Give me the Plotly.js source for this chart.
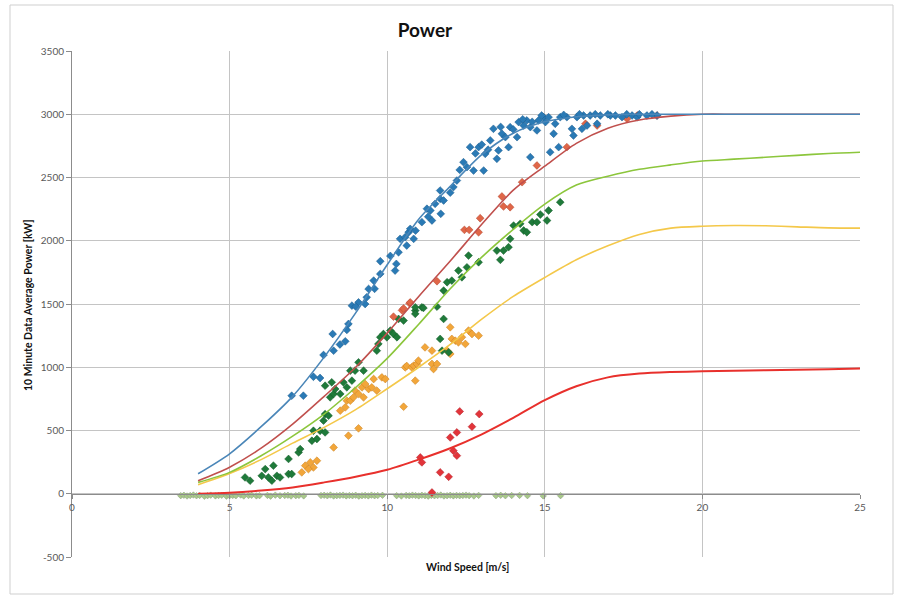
<!DOCTYPE html>
<html><head><meta charset="utf-8">
<script src="https://cdn.plot.ly/plotly-3.0.1.min.js"></script>
<style>html,body{margin:0;padding:0;background:#fff}#chart{width:903px;height:598px}</style>
</head><body><div id="chart"></div>
<script>
// Model curves (wind speed 4..25 m/s)
const curveX = [4,5,6,7,8,9,10,11,12,13,14,15,16,17,18,19,20,21,22,23,24,25];
const blueCurve   = [158,316,530,770,1080,1430,1810,2170,2430,2680,2850,2940,2980,2995,3000,3000,3000,3000,3000,3000,3000,3000];
const brownCurve  = [103,210,360,550,770,1000,1270,1560,1840,2130,2400,2590,2770,2890,2955,2985,3000,3000,3000,3000,3000,3000];
const greenCurve  = [90,169,300,455,630,840,1070,1340,1620,1870,2090,2290,2440,2510,2565,2600,2630,2645,2660,2675,2690,2700];
const yellowCurve = [71,160,270,400,525,665,830,1000,1180,1380,1560,1710,1850,1960,2050,2100,2115,2120,2118,2110,2102,2100];
const redCurve    = [0,8,25,50,90,135,190,270,360,470,600,740,850,920,950,962,968,972,976,980,985,990];

// Measured 10-minute data
const blueX = [6.97,7.34,7.66,7.87,7.98,8.3,8.27,8.67,8.72,8.77,8.88,9.09,9.3,9.35,9.41,9.57,9.78,9.78,10.25,10.29,10.36,10.41,10.57,10.68,10.73,10.84,10.62,11.1,11.26,11.42,11.52,11.68,11.7,11.68,11.79,11.37,12.1,12.21,12.42,12.53,12.63,12.74,12.9,13.06,13.11,13.27,13.37,13.48,13.53,13.64,13.75,13.85,13.9,14.12,14.17,14.33,14.43,14.54,14.54,14.75,14.8,14.96,15.02,15.12,15.17,15.28,15.33,15.44,15.49,15.7,15.86,15.91,16.02,16.18,16.23,16.44,16.34,16.76,16.66,17.08,17.24,17.45,17.77,17.93,18.24,18.56,12.0,12.3,12.8,13.0,13.2,13.6,14.0,14.3,14.6,14.9,15.6,16.1,16.6,17.0,17.6,18.0,18.4,9.0,9.6,10.1,10.9,11.3,8.5];
const blueY = [775,775,925,915,1097,1131,1263,1205,1295,1342,1487,1513,1500,1553,1619,1685,1738,1838,1764,1817,1909,2015,2028,2067,2094,2015,1962,2147,2253,2160,2292,2331,2213,2397,2318,2239,2424,2476,2621,2582,2740,2555,2740,2555,2687,2793,2885,2648,2714,2846,2819,2740,2898,2819,2938,2911,2951,2898,2661,2872,2951,2977,2938,2977,2700,2846,2925,2740,2977,2977,2885,2832,2977,2885,2990,2990,2911,2990,2925,2990,2990,2977,2990,2977,2990,2990,2380,2560,2690,2760,2720,2900,2880,2960,2940,2990,2995,3000,3000,3000,3000,3000,3000,1480,1620,1880,2080,2190,1180];

const salmonX = [10.2,10.47,10.52,10.71,10.73,11.58,12.45,12.6,12.9,12.95,13.64,13.69,13.9,14.28,14.75,15.7,16.29,16.66,17.61,17.93,18.56];
const salmonY = [1400,1450,1465,1505,1513,1680,2086,2086,2067,2178,2350,2271,2265,2463,2595,2740,2925,2911,2964,2990,2990];

const greenX = [5.49,5.65,6.02,6.13,6.23,6.34,6.39,6.5,6.6,6.87,6.97,6.87,7.19,7.24,7.61,7.66,7.77,7.87,8.03,7.98,8.03,8.14,8.19,8.3,8.35,8.51,8.61,8.72,8.83,8.88,8.98,9.09,9.25,9.67,9.72,9.78,9.88,9.99,10.1,10.2,10.31,10.36,10.52,10.89,11.1,10.89,8.03,8.24,11.15,10.89,11.58,11.79,11.68,11.74,11.79,11.9,12.05,12.26,12.37,12.53,12.58,12.9,13.48,13.59,13.69,13.85,13.9,14.01,14.22,14.33,14.43,14.6,14.75,15.07,15.49,15.12,14.86,11.95];
const greenY = [129,103,142,195,129,103,222,142,129,156,156,275,327,353,419,498,433,498,485,578,630,617,762,789,828,789,881,841,973,894,973,1039,973,1131,1184,1237,1263,1237,1290,1263,1237,1382,1369,1448,1474,1474,854,881,1469,1422,1479,1382,1224,1131,1606,1672,1685,1764,1711,1790,1883,1830,1922,1849,1922,1949,2015,2120,2134,2081,2067,2147,2147,2160,2305,2239,2207,1118];

const orangeX = [7.29,7.4,7.56,7.66,7.77,7.5,8.3,8.77,9.09,8.51,8.67,8.72,8.83,8.93,8.98,9.09,9.2,9.25,9.3,9.41,9.51,9.57,9.83,9.94,9.67,10.52,10.57,10.62,10.78,10.84,10.89,10.94,10.99,11.2,11.42,11.42,11.47,11.58,11.9,12.0,12.0,12.05,12.16,12.26,12.37,12.48,12.58,12.69,12.9];
const orangeY = [169,222,248,208,261,195,366,459,517,657,683,736,736,762,815,789,841,762,868,828,841,907,920,907,815,688,999,1010,999,1013,894,1026,1052,1157,1131,1026,986,1026,1131,1105,1316,1224,1210,1197,1237,1184,1290,1263,1250];

const redX = [11.05,11.1,11.42,11.68,11.95,12.0,12.1,12.21,12.21,12.3,12.69,12.92];
const redY = [287,248,10,169,134,445,340,301,485,651,530,630];

const zeroX = [3.45,3.55,3.65,3.75,3.85,3.95,4.05,4.2,4.3,4.4,4.55,4.65,4.75,4.9,5.0,5.1,5.2,5.35,5.45,5.6,5.7,5.85,5.95,6.2,6.3,6.45,6.6,6.75,6.85,6.95,7.1,7.2,7.35,7.9,8.0,8.1,8.2,8.3,8.4,8.5,8.6,8.7,8.8,8.9,9.0,9.1,9.2,9.3,9.4,9.5,9.6,9.7,9.85,10.3,10.45,10.6,10.7,10.8,10.9,11.0,11.1,11.2,11.3,11.4,11.5,11.6,11.7,11.8,11.9,12.0,12.1,12.2,12.3,12.4,12.5,12.6,12.75,12.9,13.45,13.6,13.75,13.95,14.2,14.45,14.95,15.5];
const zeroY = [-15,-12,-18,-14,-10,-16,-13,-20,-15,-11,-17,-14,-12,-19,-15,-13,-16,-10,-18,-14,-12,-17,-15,-13,-19,-11,-16,-14,-12,-18,-15,-13,-17,-14,-12,-16,-10,-18,-15,-13,-11,-17,-14,-16,-12,-19,-15,-13,-17,-11,-16,-14,-12,-15,-18,-13,-16,-11,-14,-17,-12,-15,-19,-13,-16,-14,-10,-18,-15,-12,-17,-13,-16,-14,-11,-15,-18,-13,-15,-12,-16,-14,-13,-15,-17,-15];

const xTicks = [0,5,10,15,20,25];
const yTickVals = [-500,0,500,1000,1500,2000,2500,3000,3500];
const yTickText = ['-500','0','500','1000','1500','2000','2500','3000','3500'];

const FONT = 'Lato, "Open Sans", sans-serif';

function pts(x, y, color, lineColor, size) {
  return {x:x, y:y, type:'scatter', mode:'markers', hoverinfo:'skip',
    marker:{symbol:'diamond', size:size, color:color, line:{color:lineColor, width:0.5}}};
}
function curve(y, color, w) {
  return {x:curveX, y:y, type:'scatter', mode:'lines', hoverinfo:'skip',
    line:{color:color, width:w, shape:'spline', smoothing:0.8}};
}

const data = [
  pts(zeroX, zeroY, '#a9c98a', '#8a9a80', 5),
  pts(redX, redY, '#e2343a', '#b02028', 6),
  pts(orangeX, orangeY, '#f2a63a', '#c87e1c', 6),
  pts(greenX, greenY, '#1f7a3a', '#135a28', 6),
  pts(salmonX, salmonY, '#e06648', '#b04830', 6),
  pts(blueX, blueY, '#2a7ab5', '#1a5a8c', 6),
  curve(redCurve, '#e8302c', 2),
  curve(yellowCurve, '#f4c84a', 1.6),
  curve(greenCurve, '#8cc63c', 1.6),
  curve(brownCurve, '#c0504d', 1.6),
  curve(blueCurve, '#4a86b8', 1.6)
];

const W = 903, H = 598, L = 72, R = 43, T = 51, B = 41;
const pw = W - L - R, ph = H - T - B;

const layout = {
  width: W, height: H,
  margin: {l:L, r:R, t:T, b:B, pad:0},
  paper_bgcolor:'#ffffff', plot_bgcolor:'#ffffff',
  showlegend:false,
  font:{family:FONT, color:'#595959'},
  title:{text:'<b>Power</b>', font:{family:FONT, size:19, color:'#111'},
    xref:'paper', x:(425-L)/pw, xanchor:'center', yref:'container', y:1-30/H, yanchor:'middle'},
  xaxis:{range:[0,25], tickvals:xTicks, anchor:'free', position:0.125,
    showgrid:true, gridcolor:'#c4c4c4', gridwidth:1, zeroline:false,
    showline:true, linecolor:'#8c8c8c', linewidth:1,
    ticks:'outside', ticklen:4, tickcolor:'#8c8c8c',
    tickfont:{family:FONT, size:10, color:'#595959'}},
  yaxis:{range:[-500,3500], tickvals:yTickVals, ticktext:yTickText,
    showgrid:true, gridcolor:'#c4c4c4', gridwidth:1, zeroline:false,
    showline:true, linecolor:'#8c8c8c', linewidth:1,
    ticks:'outside', ticklen:5, tickcolor:'#8c8c8c',
    tickfont:{family:FONT, size:10, color:'#595959'}},
  annotations:[
    {text:'<b>Wind Speed [m/s]</b>', xref:'paper', yref:'paper', x:(467-L)/pw, y:(T+ph-567)/ph,
      showarrow:false, xanchor:'center', yanchor:'middle', font:{family:FONT, size:10.5, color:'#111'}},
    {text:'<b>10 Minute Data Average Power [kW]</b>', xref:'paper', yref:'paper', x:(28-L)/pw, y:(T+ph-305)/ph,
      textangle:-90, showarrow:false, xanchor:'center', yanchor:'middle', font:{family:FONT, size:10.5, color:'#111'}}
  ],
  shapes:[
    {type:'rect', xref:'paper', yref:'paper', x0:(10-L)/pw, x1:(893-L)/pw, y0:(T+ph-594)/ph, y1:(T+ph-5)/ph,
      line:{color:'#cfcfcf', width:1}, fillcolor:'rgba(0,0,0,0)', layer:'below'}
  ]
};

Plotly.newPlot('chart', data, layout, {displayModeBar:false, staticPlot:true});
</script>
</body></html>
